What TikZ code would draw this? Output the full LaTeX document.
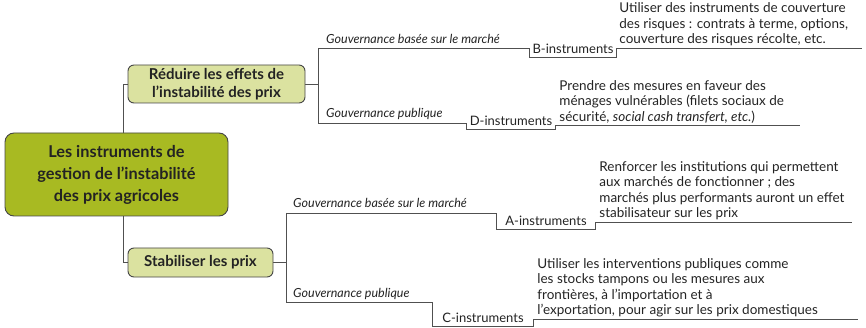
\documentclass[tikz,border=0pt]{standalone}
\usepackage{fontspec}
\setmainfont{Lato}
\usetikzlibrary{backgrounds,calc}
\definecolor{mainfill}{RGB}{168,186,34}
\definecolor{subfill}{RGB}{219,226,160}
\definecolor{boxborder}{RGB}{70,70,70}
\definecolor{linegray}{RGB}{80,80,80}
\definecolor{textdark}{RGB}{35,35,35}
\tikzset{
  conn/.style={draw=linegray, line width=0.9pt},
  mainbox/.style={draw=boxborder, fill=mainfill, rounded corners=9pt, line width=0.9pt,
    minimum width=223pt, minimum height=83pt, align=center, inner sep=0pt,
    font=\fontsize{16.3}{22}\selectfont\bfseries, text=textdark},
  subbox/.style={draw=boxborder, fill=subfill, rounded corners=6pt, line width=0.9pt,
    align=center, inner sep=0pt, font=\fontsize{15}{18.5}\selectfont\bfseries, text=textdark},
  gov/.style={font=\fontsize{12.5}{13}\selectfont\itshape, anchor=base west, inner sep=0pt, text=textdark},
  instr/.style={font=\fontsize{13}{14}\selectfont, anchor=south, inner xsep=0pt, inner ysep=3.5pt,
    text depth=0pt, text=textdark},
  desc/.style={font=\fontsize{13.5}{15.5}\selectfont, align=left, anchor=south west, inner sep=0pt, text=textdark},
}
\begin{document}
\begin{tikzpicture}[x=1pt,y=-1pt]
\useasboundingbox (0,0) rectangle (866,328);

% boxes
\node[mainbox] (main) at (116.5,174.5) {Les instruments de\\gestion de l’instabilité\\des prix agricoles};
\node[subbox, minimum width=177pt, minimum height=38pt] (red) at (216.5,84) {Réduire les effets de\\l’instabilité des prix};
\node[subbox, minimum width=145pt, minimum height=29pt] (stab) at (200.5,262.5) {Stabiliser les prix};

% instrument labels
\node[instr, minimum width=86pt] (Bi) at (573,57) {B-instruments};
\node[instr, minimum width=88pt] (Di) at (511,129) {D-instruments};
\node[instr, minimum width=98pt] (Ai) at (546,229) {A-instruments};
\node[instr, minimum width=100pt] (Ci) at (483,326) {C-instruments};

% junction coordinates
\coordinate (jTop) at (318,84);
\coordinate (bL) at (318,48);
\coordinate (dL) at (318,123);
\coordinate (jBot) at (286,262.5);
\coordinate (aL) at (286,213);
\coordinate (cL) at (286,302);
\coordinate (bEnd) at (862,48);
\coordinate (dEnd) at (800,125);
\coordinate (aEnd) at (852,222);
\coordinate (cEnd) at (858,319);
\coordinate (trTop) at (123,84);
\coordinate (trBot) at (123,262.5);

% governance labels
\node[gov] (gB) at ($(bL)+(8,-4)$) {Gouvernance basée sur le marché};
\node[gov] (gD) at ($(dL)+(8,-5)$) {Gouvernance publique};
\node[gov] (gA) at ($(aL)+(7,-5)$) {Gouvernance basée sur le marché};
\node[gov] (gC) at ($(cL)+(7,-5)$) {Gouvernance publique};

% descriptions
\node[desc] (tB) at ($(Bi.south east |- bEnd)+(3,-1.5)$) {Utiliser des instruments de couverture\\des risques : contrats à terme, options,\\couverture des risques récolte, etc.};
\node[desc] (tD) at ($(Di.south east |- dEnd)+(4,-1.5)$) {Prendre des mesures en faveur des\\ménages vulnérables (filets sociaux de\\sécurité, \textit{social cash transfert, etc.})};
\node[desc] (tA) at ($(Ai.south east |- aEnd)+(4,-1.5)$) {Renforcer les institutions qui permettent\\aux marchés de fonctionner ; des\\marchés plus performants auront un effet\\stabilisateur sur les prix};
\node[desc] (tC) at ($(Ci.south east |- cEnd)+(4,-1.5)$) {Utiliser les interventions publiques comme\\les stocks tampons ou les mesures aux\\frontières, à l’importation et à\\l’exportation, pour agir sur les prix domestiques};

\begin{scope}[on background layer]
  \draw[conn] (red.west) -- (trTop) -- (trBot) -- (stab.west);
  \draw[conn] (red.east) -- (jTop);
  \draw[conn] (bL) -- (dL);
  \draw[conn] (bL) -| (Bi.south west) -- (Bi.south east) |- (bEnd);
  \draw[conn] (dL) -| (Di.south west) -- (Di.south east) |- (dEnd);
  \draw[conn] (stab.east) -- (jBot);
  \draw[conn] (aL) -- (cL);
  \draw[conn] (aL) -| (Ai.south west) -- (Ai.south east) |- (aEnd);
  \draw[conn] (cL) -| (Ci.south west) -- (Ci.south east) |- (cEnd);
\end{scope}
\end{tikzpicture}
\end{document}
